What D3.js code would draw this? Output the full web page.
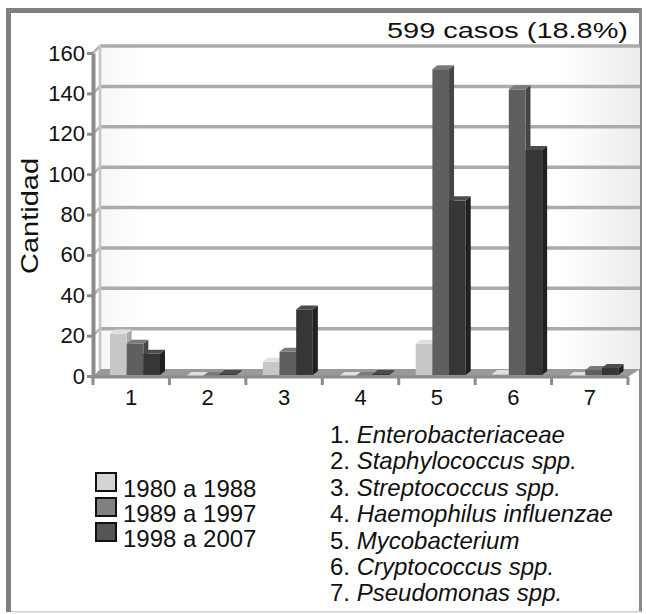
<!DOCTYPE html>
<html>
<head>
<meta charset="utf-8">
<script src="https://cdn.jsdelivr.net/npm/d3@7"></script>
<style>
  body { margin: 0; background: #fff; }
  svg text { font-family: "Liberation Sans", Arial, sans-serif; fill: #111; }
</style>
</head>
<body>
<div id="chart"></div>
<script>
// datos
var categorias = ["1", "2", "3", "4", "5", "6", "7"];
var periodos = ["1980 a 1988", "1989 a 1997", "1998 a 2007"];
var serie1980 = [21, 0, 7, 0, 16, 1, 0];
var serie1989 = [16, 0, 12, 0, 152, 142, 3];
var serie1998 = [11, 1, 33, 1, 87, 112, 4];
var organismos = ["Enterobacteriaceae", "Staphylococcus spp.", "Streptococcus spp.",
  "Haemophilus influenzae", "Mycobacterium", "Cryptococcus spp.", "Pseudomonas spp."];
var yTicks = [0, 20, 40, 60, 80, 100, 120, 140, 160];
var titulo = "599 casos (18.8%)";

var width = 646, height = 614;
var depthX = 7, depthY = -7;   // fondo del grafico 3D
var barDX = 5, barDY = -4;     // profundidad de cada barra

var series = [serie1980, serie1989, serie1998];
var caras = [
  {front: "#c7c7c7", top: "#e0e0e0", side: "#a9a9a9"},
  {front: "#5f5f5f", top: "#7a7a7a", side: "#454545"},
  {front: "#363636", top: "#4c4c4c", side: "#202020"}
];
var legendColor = ["#d4d4d4", "#808080", "#555555"];

var svg = d3.select("#chart").append("svg")
  .attr("width", width).attr("height", height);

var defs = svg.append("defs");
var grad = defs.append("linearGradient").attr("id", "wall").attr("x1", 0).attr("x2", 1).attr("y1", 0).attr("y2", 0);
grad.append("stop").attr("offset", "0%").attr("stop-color", "#f6f6f6");
grad.append("stop").attr("offset", "8%").attr("stop-color", "#ffffff");
grad.append("stop").attr("offset", "85%").attr("stop-color", "#ffffff");
grad.append("stop").attr("offset", "100%").attr("stop-color", "#ececec");

// marco
svg.append("rect").attr("x", 6).attr("y", 8).attr("width", 635).attr("height", 604)
  .attr("fill", "#fff").attr("stroke", "none");
svg.append("rect").attr("x", 6).attr("y", 8).attr("width", 636).attr("height", 5).attr("fill", "#808080");
svg.append("rect").attr("x", 6).attr("y", 8).attr("width", 5).attr("height", 604).attr("fill", "#808080");
svg.append("rect").attr("x", 639).attr("y", 8).attr("width", 3).attr("height", 604).attr("fill", "#8a8a8a");
svg.append("rect").attr("x", 11).attr("y", 611).attr("width", 630).attr("height", 1.5).attr("fill", "#d0d0d0");

var x = d3.scaleBand().domain(categorias).range([93, 628]);
var x1 = d3.scaleBand().domain(d3.range(periodos.length)).range([17, 67]);
var y = d3.scaleLinear().domain([0, 160]).range([376, 53]);

var left = x.range()[0], right = x.range()[1];

// pared del fondo
svg.append("rect")
  .attr("x", left + depthX).attr("y", y(160) + depthY)
  .attr("width", right + 12 - left - depthX).attr("height", y(0) - y(160))
  .attr("fill", "url(#wall)");

// lineas de rejilla
svg.append("g").selectAll("line").data(yTicks.slice(1)).join("line")
  .attr("x1", left + depthX).attr("x2", right + 12)
  .attr("y1", function(d) { return y(d) + depthY; })
  .attr("y2", function(d) { return y(d) + depthY; })
  .attr("stroke", "#ababab").attr("stroke-width", 3.5);
svg.append("g").selectAll("line").data(yTicks.slice(1)).join("line")
  .attr("x1", left).attr("x2", left + depthX)
  .attr("y1", function(d) { return y(d); })
  .attr("y2", function(d) { return y(d) + depthY; })
  .attr("stroke", "#b5b5b5").attr("stroke-width", 2.5);
svg.append("line")
  .attr("x1", left + depthX).attr("x2", left + depthX)
  .attr("y1", y(160) + depthY).attr("y2", y(0) + depthY)
  .attr("stroke", "#c4c4c4").attr("stroke-width", 2.5);

// suelo
svg.append("path")
  .attr("d", "M" + left + "," + (y(0) + 1) + "L" + right + "," + (y(0) + 1) +
    "L" + (right + 12) + "," + (y(0) + depthY) + "L" + (left + depthX) + "," + (y(0) + depthY) + "Z")
  .attr("fill", "#999999");

// barras
var grupos = svg.append("g").selectAll("g").data(categorias).join("g")
  .attr("transform", function(d) { return "translate(" + x(d) + ",0)"; });

grupos.each(function(cat, ci) {
  var g = d3.select(this);
  series.forEach(function(s, si) {
    var v = s[ci];
    var bx = x1(si), bw = x1.bandwidth();
    var top = y(v), bottom = y(0) - 1;
    var c = caras[si];
    g.append("path")
      .attr("d", "M" + (bx + bw) + "," + bottom + "L" + (bx + bw + barDX) + "," + (bottom + barDY) +
        "L" + (bx + bw + barDX) + "," + (top + barDY) + "L" + (bx + bw) + "," + top + "Z")
      .attr("fill", c.side);
    g.append("rect").attr("x", bx).attr("y", top)
      .attr("width", bw).attr("height", Math.max(0, bottom - top))
      .attr("fill", c.front);
    g.append("path")
      .attr("d", "M" + bx + "," + top + "L" + (bx + bw) + "," + top +
        "L" + (bx + bw + barDX) + "," + (top + barDY) + "L" + (bx + barDX) + "," + (top + barDY) + "Z")
      .attr("fill", c.top);
  });
});

// eje y
var yAxis = svg.append("g").attr("transform", "translate(" + left + ",0)")
  .call(d3.axisLeft(y).tickValues(yTicks).tickSize(6).tickPadding(2).tickSizeOuter(0));
yAxis.select(".domain").attr("stroke", "#8c8c8c").attr("stroke-width", 4);
yAxis.selectAll(".tick line").attr("stroke", "#8c8c8c").attr("stroke-width", 3);
yAxis.selectAll(".tick text").attr("font-size", 22).attr("fill", "#111")
  .style("font-family", "'Liberation Sans', Arial, sans-serif");

// eje x
svg.append("line").attr("x1", left - 2).attr("x2", right).attr("y1", y(0) + 1).attr("y2", y(0) + 1)
  .attr("stroke", "#8c8c8c").attr("stroke-width", 3);
svg.append("g").selectAll("line").data(categorias.concat(["fin"])).join("line")
  .attr("x1", function(d, i) { return left + i * x.step(); })
  .attr("x2", function(d, i) { return left + i * x.step(); })
  .attr("y1", y(0) + 1).attr("y2", y(0) + 9)
  .attr("stroke", "#8c8c8c").attr("stroke-width", 3);
var xAxis = svg.append("g").attr("transform", "translate(0," + (y(0) + 9) + ")")
  .call(d3.axisBottom(x).tickSize(0).tickPadding(4));
xAxis.select(".domain").remove();
xAxis.selectAll(".tick text").attr("font-size", 22).attr("fill", "#111")
  .style("font-family", "'Liberation Sans', Arial, sans-serif");

// titulo del eje y
svg.append("text")
  .attr("transform", "translate(38,216) rotate(-90)")
  .attr("text-anchor", "middle")
  .attr("font-size", 24)
  .attr("textLength", 116).attr("lengthAdjust", "spacingAndGlyphs")
  .text("Cantidad");

// titulo
svg.append("text")
  .attr("x", 387).attr("y", 38)
  .attr("font-size", 22.5)
  .attr("textLength", 241).attr("lengthAdjust", "spacingAndGlyphs")
  .text(titulo);

// leyenda de periodos
var leg = svg.append("g").selectAll("g").data(periodos).join("g")
  .attr("transform", function(d, i) { return "translate(96," + (473 + i * 25) + ")"; });
leg.append("rect").attr("width", 20).attr("height", 18)
  .attr("fill", function(d, i) { return legendColor[i]; })
  .attr("stroke", "#111").attr("stroke-width", 2);
leg.append("text").attr("x", 27).attr("y", 24).attr("font-size", 24).text(function(d) { return d; });

// lista de organismos
var lista = svg.append("g").selectAll("text").data(organismos).join("text")
  .attr("x", 330).attr("y", function(d, i) { return 443 + i * 26.4; })
  .attr("font-size", 24);
lista.append("tspan").text(function(d, i) { return (i + 1) + ". "; });
lista.append("tspan").attr("font-style", "italic").text(function(d) { return d; });
</script>
</body>
</html>
